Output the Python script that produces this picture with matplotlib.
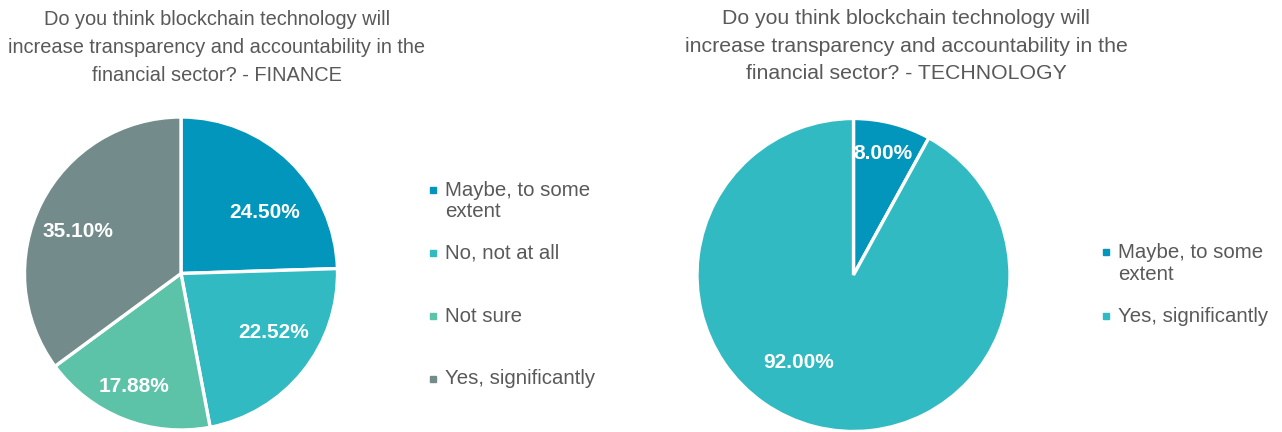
import numpy as np
import matplotlib
matplotlib.use('Agg')
import matplotlib.pyplot as plt
from matplotlib.patches import Rectangle

# survey answers per sector
finance_labels = ["Maybe, to some\nextent", "No, not at all", "Not sure", "Yes, significantly"]
finance_values = [24.50, 22.52, 17.88, 35.10]
finance_colors = ["#0396BC", "#31BAC1", "#5CC3A8", "#738B8B"]

tech_labels = ["Maybe, to some\nextent", "Yes, significantly"]
tech_values = [8.00, 92.00]
tech_colors = ["#0396BC", "#31BAC1"]

question = ("Do you think blockchain technology will\n"
            "increase transparency and accountability in the\n"
            "financial sector? - ")

W, H = 1282, 432
TEXT_GREY = "#595959"
plt.rcParams['font.family'] = ['Liberation Sans', 'DejaVu Sans']

fig = plt.figure(figsize=(W / 100, H / 100), dpi=100)
fig.patch.set_facecolor("white")


def px(x, y):
    # pixel position (top-left origin) -> figure fraction
    return x / W, 1 - y / H


def draw_pie(cx, cy, r, values, colors, label_place):
    ax = fig.add_axes([(cx - r) / W, (H - cy - r) / H, 2 * r / W, 2 * r / H])
    wedges, _, autotexts = ax.pie(
        values, colors=colors, startangle=90, counterclock=False,
        autopct=lambda p: f"{p:.2f}%", pctdistance=0.7,
        wedgeprops=dict(edgecolor="white", linewidth=2.4),
        textprops=dict(color="white", fontsize=15, fontweight="bold"))
    # best-fit style label placement: radius and angular nudge per slice
    for w, t, (d, nudge) in zip(wedges, autotexts, label_place):
        a = np.deg2rad((w.theta1 + w.theta2) / 2 + nudge)
        t.set_position((d * np.cos(a), d * np.sin(a)))
    ax.set_xlim(-1, 1)
    ax.set_ylim(-1, 1)
    ax.set_aspect("equal")
    ax.axis("off")
    return ax


def draw_legend(x, rows, labels, colors, line_gap):
    for y, lab, col in zip(rows, labels, colors):
        fig.patches.append(Rectangle(px(x - 15, y + 3), 6 / W, 6 / H,
                                     transform=fig.transFigure, color=col))
        for i, line in enumerate(lab.split("\n")):
            fig.text(*px(x, y + i * line_gap), line, fontsize=14.7,
                     color=TEXT_GREY, va="center", ha="left")


draw_pie(181, 273.5, 156.5, finance_values, finance_colors,
         [(0.66, -9.6), (0.70, 6.4), (0.78, -1.3), (0.71, 4.4)])
draw_pie(853.5, 275, 156.5, tech_values, tech_colors,
         [(0.80, 0.8), (0.66, -18.0)])

fig.text(*px(217, 10), question + "FINANCE", fontsize=14.4, color=TEXT_GREY,
         ha="center", va="top", multialignment="center", linespacing=1.6)
fig.text(*px(906, 9), question + "TECHNOLOGY", fontsize=15.3, color=TEXT_GREY,
         ha="center", va="top", multialignment="center", linespacing=1.58)

draw_legend(445, [190, 253, 316, 379], finance_labels, finance_colors, 22)
draw_legend(1118, [252, 316], tech_labels, tech_colors, 23)

fig.savefig("out.png", dpi=100, facecolor="white")
